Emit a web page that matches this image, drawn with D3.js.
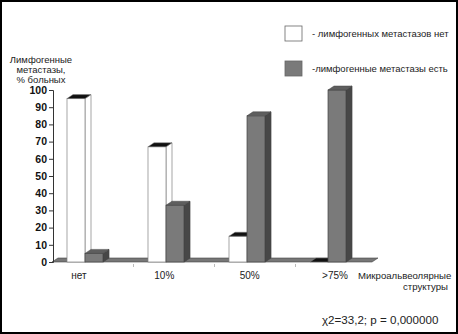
<!DOCTYPE html>
<html>
<head>
<meta charset="utf-8">
<script src="https://cdn.jsdelivr.net/npm/d3@7"></script>
<style>
  body { margin: 0; background: #fff; }
  svg text { font-family: "Liberation Sans", Arial, sans-serif; }
</style>
</head>
<body>
<div id="chart"></div>
<script>
// DATA
const categories = ['нет', '10%', '50%', '>75%'];
const seriesNames = ['- лимфогенных метастазов нет', '-лимфогенные метастазы есть'];
const noMetastases = [95, 67, 15, 0];
const withMetastases = [5, 33, 85, 100];
const yTicks = [0, 10, 20, 30, 40, 50, 60, 70, 80, 90, 100];

// SETTINGS
const dims = { width: 458, height: 334 };
const depth = { dx: 6, dy: -4 };
const colors = {
    white: { front: '#ffffff', side: '#ffffff', top: '#111111', stroke: '#808080' },
    gray: { front: '#7a7a7a', side: '#474747', top: '#5e5e5e', stroke: '#444444' }
};

const svg = d3.select('#chart')
    .append('svg')
    .attr('width', dims.width)
    .attr('height', dims.height);

// frame
svg.append('rect')
    .attr('x', 1).attr('y', 1)
    .attr('width', dims.width - 2).attr('height', dims.height - 2)
    .attr('fill', 'none')
    .attr('stroke', '#000')
    .attr('stroke-width', 2);

// scales
const y = d3.scaleLinear().domain([0, 100]).range([262, 90]);
const xGroup = d3.scalePoint().domain(categories).range([85, 328]);
const xSeries = d3.scaleBand().domain([0, 1]).range([-18, 18]);
const xLabel = d3.scalePoint().domain(categories).range([79, 335]);

// floor
const floorLeft = 52, floorRight = 372;
svg.append('path')
    .attr('d', `M${floorLeft},${y(0)} L${floorLeft + depth.dx},${y(0) + depth.dy} L${floorRight + depth.dx},${y(0) + depth.dy} L${floorRight},${y(0)} Z`)
    .attr('fill', '#777')
    .attr('stroke', '#444')
    .attr('stroke-width', 0.6);

// faint tick marks under the floor
const step = xGroup.step();
svg.selectAll('.xtick')
    .data(categories.slice(0, -1))
    .enter().append('line')
    .attr('x1', d => xGroup(d) + step / 2 + depth.dx + 2)
    .attr('x2', d => xGroup(d) + step / 2 + depth.dx + 2)
    .attr('y1', y(0) + 2).attr('y2', y(0) + 5)
    .attr('stroke', '#bbb');

// y axis
const yAxis = d3.axisLeft(y).tickValues(yTicks).tickSize(4).tickPadding(2);
const gAxis = svg.append('g')
    .attr('transform', `translate(53,0)`)
    .call(yAxis);
gAxis.select('.domain').attr('stroke', '#333');
gAxis.selectAll('.tick line').attr('stroke', '#333');
gAxis.selectAll('text')
    .attr('font-size', 10.5)
    .attr('font-weight', 'bold')
    .attr('fill', '#111');

// 3D bars
const bars = [];
categories.forEach((c, i) => {
    bars.push({ cat: c, s: 0, value: noMetastases[i], col: colors.white });
    bars.push({ cat: c, s: 1, value: withMetastases[i], col: colors.gray });
});

const barG = svg.append('g');
bars.forEach(b => {
    const x0 = xGroup(b.cat) + xSeries(b.s);
    const w = xSeries.bandwidth();
    const yt = y(b.value), yb = y(0);
    const g = barG.append('g');
    if (b.value > 0) {
        // side
        g.append('path')
            .attr('d', `M${x0 + w},${yt} L${x0 + w + depth.dx},${yt + depth.dy} L${x0 + w + depth.dx},${yb + depth.dy} L${x0 + w},${yb} Z`)
            .attr('fill', b.col.side).attr('stroke', b.col.stroke).attr('stroke-width', 0.7);
        // front
        g.append('rect')
            .attr('x', x0).attr('y', yt)
            .attr('width', w).attr('height', yb - yt)
            .attr('fill', b.col.front).attr('stroke', b.col.stroke).attr('stroke-width', 0.7);
    }
    // top
    g.append('path')
        .attr('d', `M${x0},${yt} L${x0 + depth.dx},${yt + depth.dy} L${x0 + w + depth.dx},${yt + depth.dy} L${x0 + w},${yt} Z`)
        .attr('fill', b.col.top).attr('stroke', b.col.stroke).attr('stroke-width', 0.5);
});

// category labels
svg.selectAll('.cat')
    .data(categories)
    .enter().append('text')
    .attr('x', d => xLabel(d))
    .attr('y', 279)
    .attr('text-anchor', 'middle')
    .attr('font-size', 10)
    .attr('fill', '#222')
    .text(d => d);

// y title
const yTitle = ['Лимфогенные', 'метастазы,', '% больных'];
svg.selectAll('.ytitle')
    .data(yTitle)
    .enter().append('text')
    .attr('x', 41)
    .attr('y', (d, i) => 63 + i * 10)
    .attr('text-anchor', 'middle')
    .attr('font-size', 9.5)
    .attr('fill', '#222')
    .text(d => d);

// x title
svg.append('text')
    .attr('x', 358).attr('y', 279)
    .attr('font-size', 9.6)
    .attr('fill', '#222')
    .text('Микроальвеолярные');
svg.append('text')
    .attr('x', 448).attr('y', 290)
    .attr('text-anchor', 'end')
    .attr('font-size', 9.6)
    .attr('fill', '#222')
    .text('структуры');

// legend
const legend = svg.append('g');
const legendY = [26, 61];
seriesNames.forEach((name, i) => {
    const col = i === 0 ? colors.white : colors.gray;
    legend.append('rect')
        .attr('x', 285).attr('y', legendY[i])
        .attr('width', 17).attr('height', 15)
        .attr('fill', col.front)
        .attr('stroke', '#666').attr('stroke-width', 0.8);
    legend.append('text')
        .attr('x', 312).attr('y', legendY[i] + 11)
        .attr('font-size', 9.5)
        .attr('fill', '#222')
        .text(name);
});

// statistic
svg.append('text')
    .attr('x', 322).attr('y', 324)
    .attr('font-size', 11.6)
    .attr('fill', '#222')
    .text('χ2=33,2; р = 0,000000');
</script>
</body>
</html>
